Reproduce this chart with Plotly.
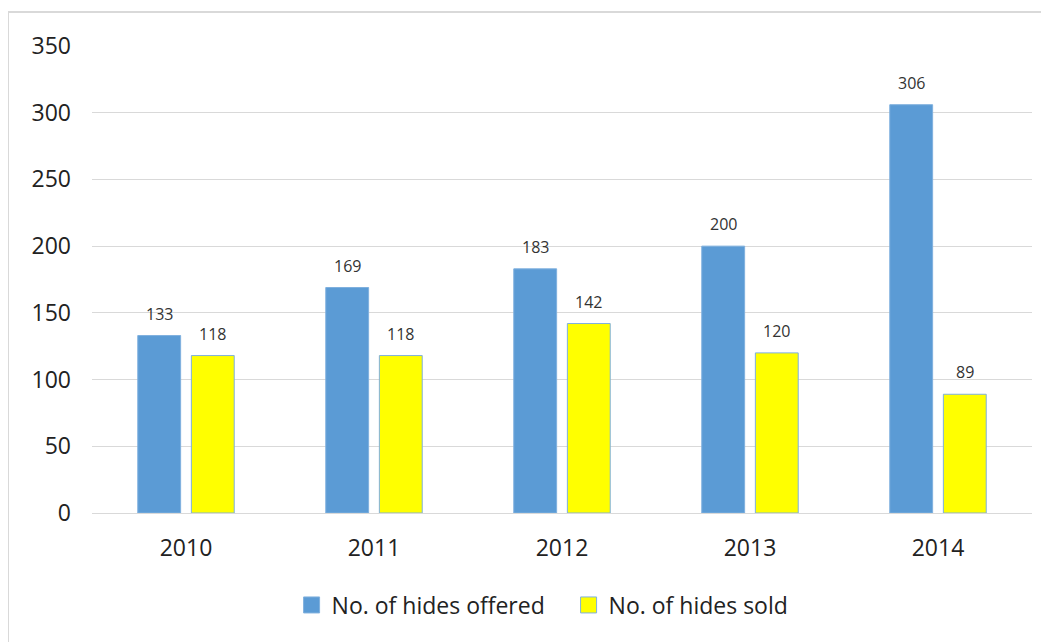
import plotly.graph_objects as go

years = ["2010", "2011", "2012", "2013", "2014"]
offered = [133, 169, 183, 200, 306]
sold = [118, 118, 142, 120, 89]
series_names = ["No. of hides offered", "No. of hides sold"]

BLUE = "#5B9BD5"
YELLOW = "#FFFF00"
EDGE = "#7FB0DE"
FONT = "Open Sans"
TXT = "#222222"

fig = go.Figure()
fig.add_trace(go.Bar(x=years, y=offered, name=series_names[0], showlegend=False,
                     marker=dict(color=BLUE, line=dict(color=EDGE, width=1))))
fig.add_trace(go.Bar(x=years, y=sold, name=series_names[1], showlegend=False,
                     marker=dict(color=YELLOW, line=dict(color=EDGE, width=1))))
# legend entries with larger square swatches
for name, col in zip(series_names, (BLUE, YELLOW)):
    fig.add_trace(go.Scatter(x=[years[0]], y=[None], mode="markers", name=name,
                             marker=dict(symbol="square", size=16, color=col,
                                         line=dict(color=EDGE, width=1))))

# data labels (category index positions on the category axis)
for vals, shift in ((offered, -26.75), (sold, 26.75)):
    for i, v in enumerate(vals):
        fig.add_annotation(x=i, y=v, xref="x", yref="y", text=str(v), showarrow=False,
                           xshift=shift, yshift=22,
                           font=dict(family=FONT, size=16, color="#333333"))

W, H = 1049, 642
ml, mt, pw, ph = 84, 38, 940, 467
mr, mb = W - ml - pw, H - mt - ph
# outer chart border
fig.add_shape(type="rect", xref="paper", yref="paper",
              x0=-ml / pw, x1=1 + (mr + 30) / pw,
              y0=-(mb + 30) / ph, y1=1 + (mt - 4) / ph,
              line=dict(color="#D9D9D9", width=2), fillcolor="rgba(0,0,0,0)", layer="below")

fig.update_layout(
    width=W, height=H,
    margin=dict(l=ml, r=mr, t=mt, b=mb, autoexpand=False),
    paper_bgcolor="white", plot_bgcolor="white",
    barmode="group", bargap=0.43, bargroupgap=0.2,
    font=dict(family=FONT, size=23, color=TXT),
    showlegend=True,
    legend=dict(orientation="h", x=0.507, xanchor="center", y=-0.197, yanchor="middle",
                font=dict(family=FONT, size=23, color=TXT),
                traceorder="normal", itemwidth=30, entrywidth=232),
    xaxis=dict(type="category", categoryorder="array", categoryarray=years,
               range=[-0.5, len(years) - 0.5], autorange=False,
               showgrid=False, showline=True, linecolor="#D9D9D9", linewidth=1,
               ticks="", ticklabelstandoff=14,
               tickfont=dict(family=FONT, size=23, color=TXT)),
    yaxis=dict(range=[0, 350], autorange=False, dtick=50, showgrid=True,
               gridcolor="#D9D9D9", gridwidth=1,
               zeroline=False, showline=False, ticks="", ticklabelstandoff=20,
               tickfont=dict(family=FONT, size=23, color=TXT)),
)

fig.write_html("out.html")
